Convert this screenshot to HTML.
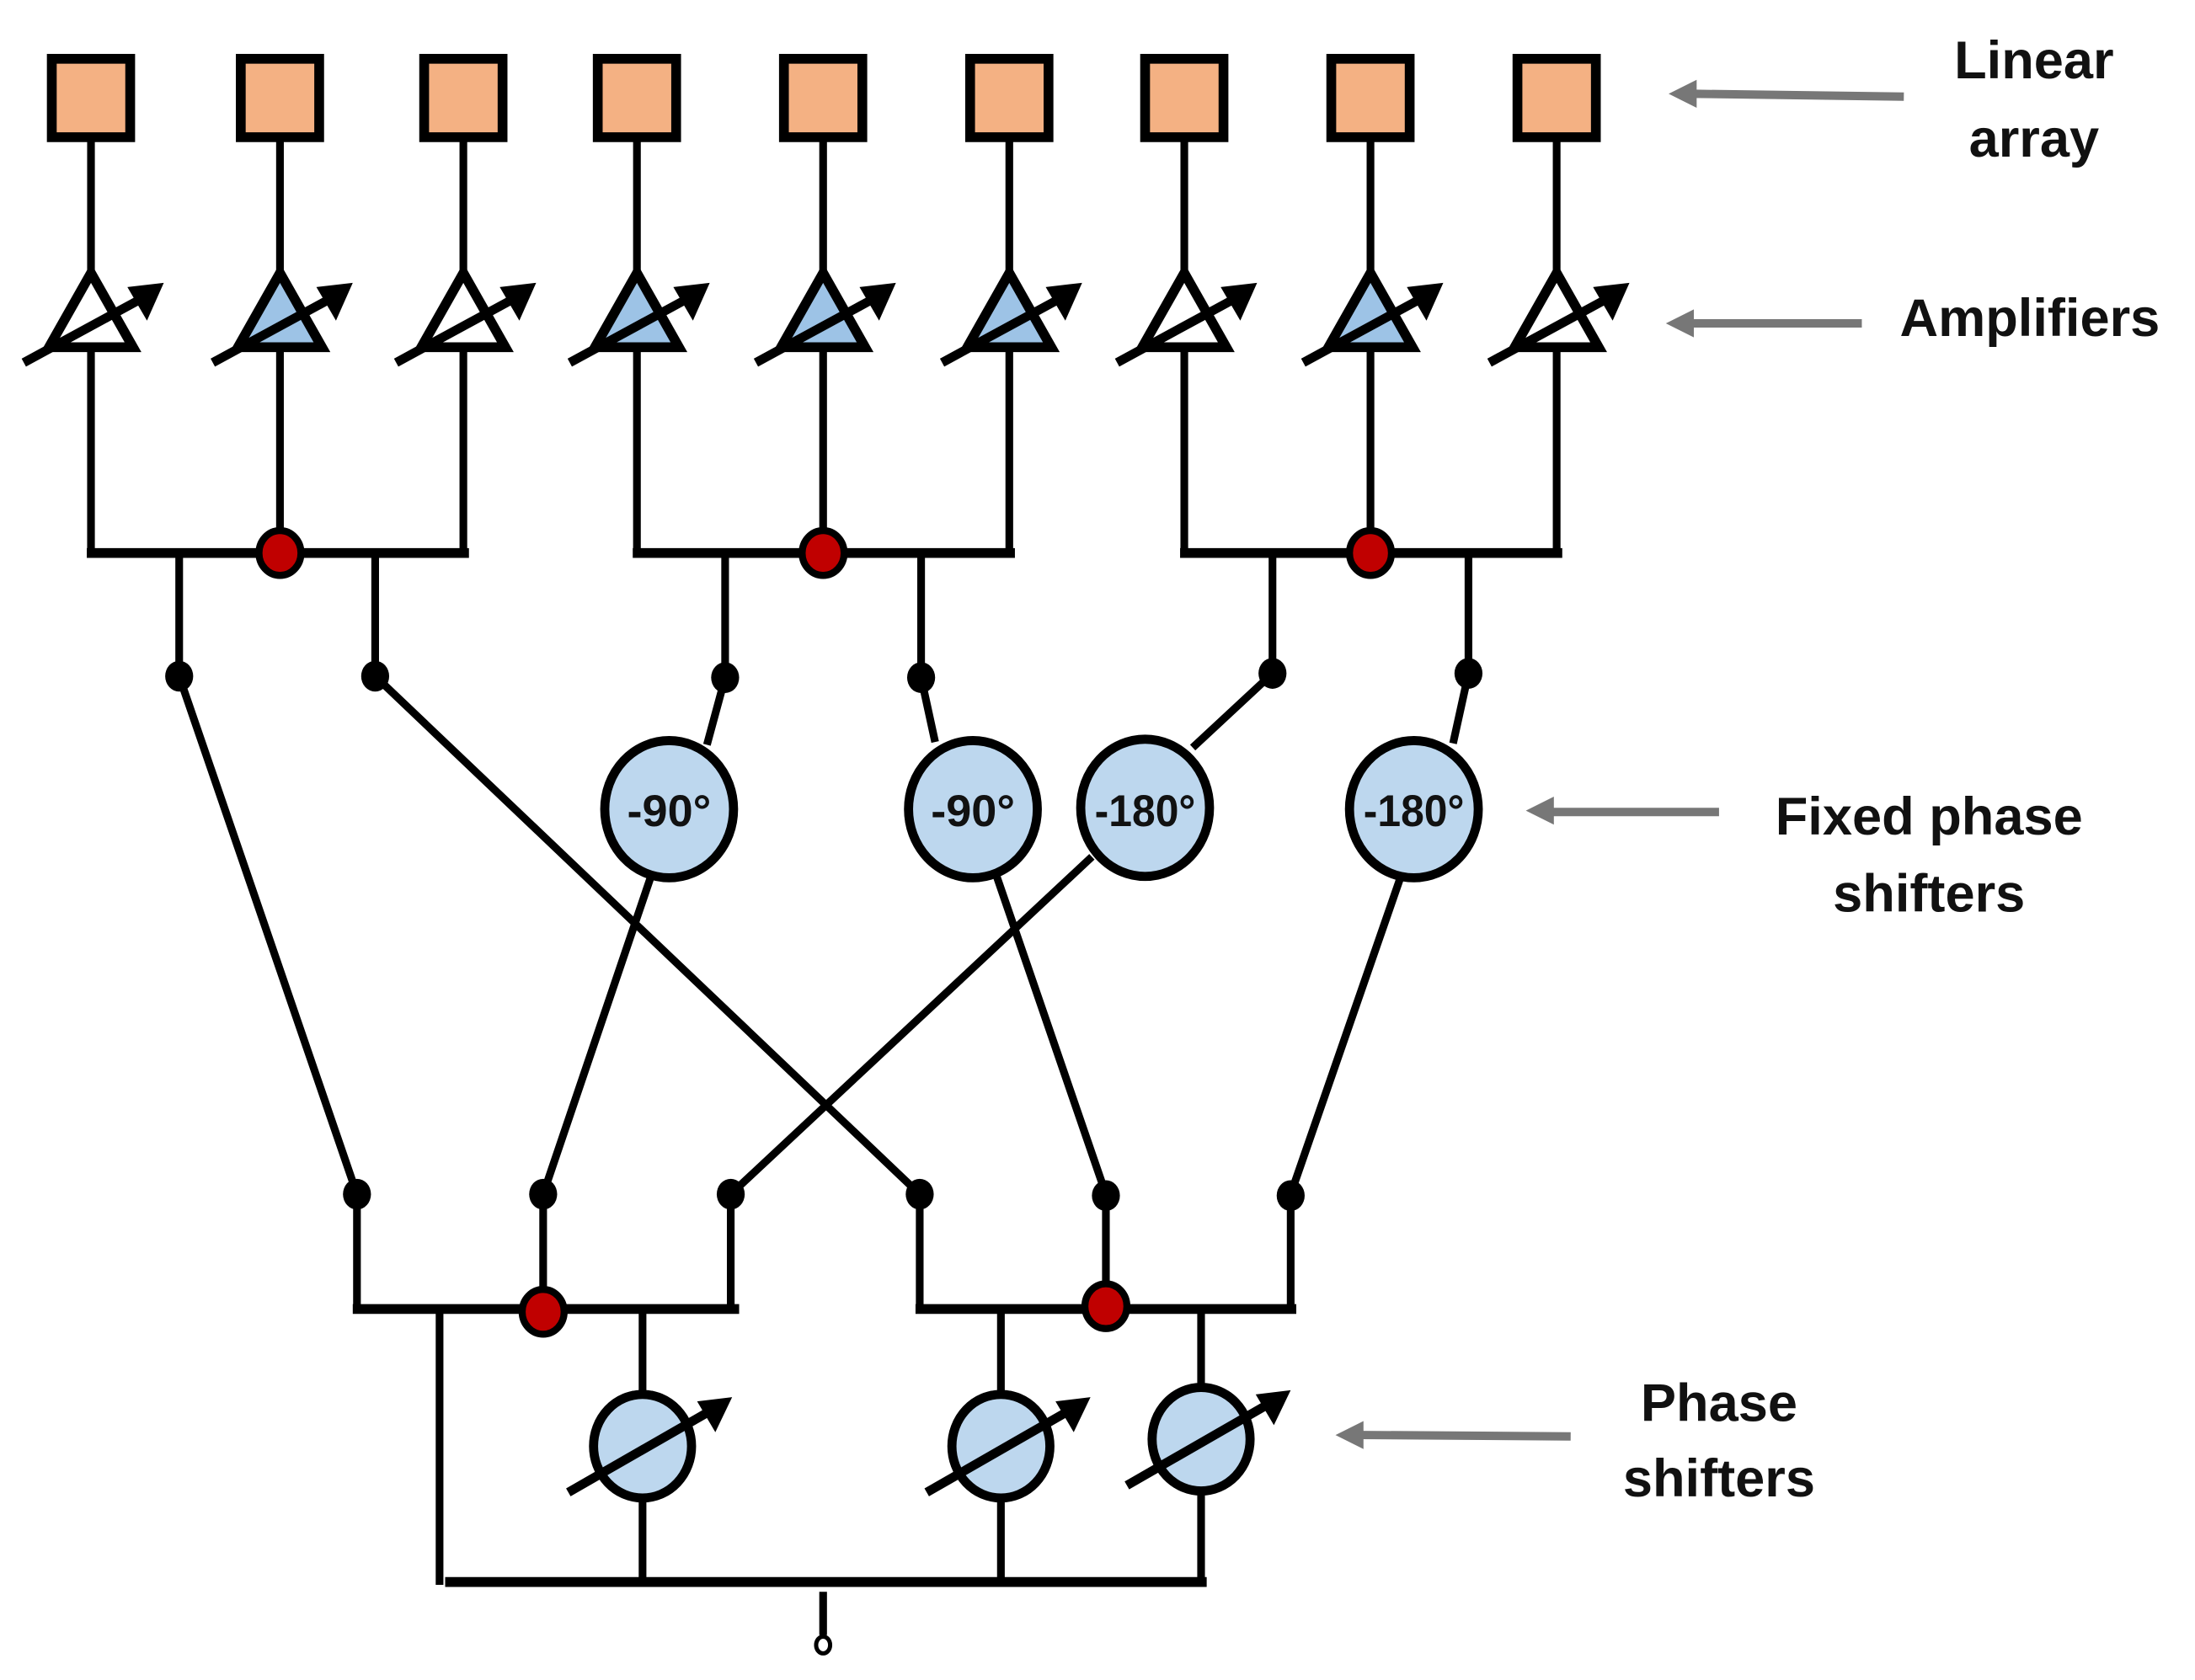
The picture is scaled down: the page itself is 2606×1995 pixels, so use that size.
<!DOCTYPE html>
<html><head><meta charset="utf-8"><style>
html,body{margin:0;padding:0;background:#fff;}
svg{display:block;}
text{font-family:"Liberation Sans",sans-serif;font-weight:bold;fill:#111;}
</style></head><body>
<svg width="2606" height="1995" viewBox="0 0 1568 1200" preserveAspectRatio="none" xmlns="http://www.w3.org/2000/svg">
<defs>
<g id="ampArrow">
<line x1="-48" y1="64" x2="33" y2="20" stroke="#000" stroke-width="6.5"/>
<polygon points="52,7 26,10 40,34" fill="#000"/>
</g>
</defs>
<g stroke="#000" stroke-width="5.5" fill="none">
<path d="M65 100V195 M200 100V195 M331 100V195 M455 100V195 M588 100V195 M721 100V195 M846 100V195 M979 100V195 M1112 100V195"/>
<path d="M65 248V395 M200 248V395 M331 248V395 M455 248V395 M588 248V395 M721 248V395 M846 248V395 M979 248V395 M1112 248V395"/>
<path d="M128 395V483 M268 395V483 M518 395V484 M658 395V484 M909 395V481 M1049 395V481"/>
<path d="M128 483L255 853 M268 483L657 853 M518 484L505 532 M465 626L388 853 M658 484L668 530 M712 626L790 853 M909 481L852 534 M780 612L522 853 M1049 481L1038 531 M1000 628L922 853"/>
<path d="M255 853V935 M388 853V935 M522 853V935 M657 853V935 M790 853V935 M922 853V935"/>
<path d="M314 935V1132 M459 935V996 M459 1070V1130 M715 935V996 M715 1070V1130 M858 935V991 M858 1065V1130"/>
<path d="M588 1137V1168"/>
</g>
<g stroke="#000" stroke-width="7" fill="none">
<path d="M62 395H335 M452 395H725 M843 395H1116"/>
<path d="M252 935H528 M654 935H926"/>
<path d="M318 1130H862"/>
</g>
<g fill="#F4B183" stroke="#000" stroke-width="7">
<rect x="37" y="42" width="56" height="56"/><rect x="172" y="42" width="56" height="56"/><rect x="303" y="42" width="56" height="56"/>
<rect x="427" y="42" width="56" height="56"/><rect x="560" y="42" width="56" height="56"/><rect x="693" y="42" width="56" height="56"/>
<rect x="818" y="42" width="56" height="56"/><rect x="951" y="42" width="56" height="56"/><rect x="1084" y="42" width="56" height="56"/>
</g>
<g stroke="#000" stroke-width="7" stroke-linejoin="miter">
<g transform="translate(65,0)"><polygon points="0,195 -30,248 30,248" fill="#fff"/></g>
<g transform="translate(200,0)"><polygon points="0,195 -30,248 30,248" fill="#9DC3E6"/></g>
<g transform="translate(331,0)"><polygon points="0,195 -30,248 30,248" fill="#fff"/></g>
<g transform="translate(455,0)"><polygon points="0,195 -30,248 30,248" fill="#9DC3E6"/></g>
<g transform="translate(588,0)"><polygon points="0,195 -30,248 30,248" fill="#9DC3E6"/></g>
<g transform="translate(721,0)"><polygon points="0,195 -30,248 30,248" fill="#9DC3E6"/></g>
<g transform="translate(846,0)"><polygon points="0,195 -30,248 30,248" fill="#fff"/></g>
<g transform="translate(979,0)"><polygon points="0,195 -30,248 30,248" fill="#9DC3E6"/></g>
<g transform="translate(1112,0)"><polygon points="0,195 -30,248 30,248" fill="#fff"/></g>
</g>
<g>
<use href="#ampArrow" transform="translate(65,195)"/><use href="#ampArrow" transform="translate(200,195)"/><use href="#ampArrow" transform="translate(331,195)"/>
<use href="#ampArrow" transform="translate(455,195)"/><use href="#ampArrow" transform="translate(588,195)"/><use href="#ampArrow" transform="translate(721,195)"/>
<use href="#ampArrow" transform="translate(846,195)"/><use href="#ampArrow" transform="translate(979,195)"/><use href="#ampArrow" transform="translate(1112,195)"/>
</g>
<g fill="#000">
<ellipse cx="128" cy="483" rx="10" ry="11"/><ellipse cx="268" cy="483" rx="10" ry="11"/><ellipse cx="518" cy="484" rx="10" ry="11"/>
<ellipse cx="658" cy="484" rx="10" ry="11"/><ellipse cx="909" cy="481" rx="10" ry="11"/><ellipse cx="1049" cy="481" rx="10" ry="11"/>
<ellipse cx="255" cy="853" rx="10" ry="11"/><ellipse cx="388" cy="853" rx="10" ry="11"/><ellipse cx="522" cy="853" rx="10" ry="11"/>
<ellipse cx="657" cy="853" rx="10" ry="11"/><ellipse cx="790" cy="854" rx="10" ry="11"/><ellipse cx="922" cy="854" rx="10" ry="11"/>
</g>
<g fill="#C00000" stroke="#000" stroke-width="5">
<ellipse cx="200" cy="395" rx="15" ry="16"/><ellipse cx="588" cy="395" rx="15" ry="16"/><ellipse cx="979" cy="395" rx="15" ry="16"/>
<ellipse cx="388" cy="937" rx="15" ry="16"/><ellipse cx="790" cy="933" rx="15" ry="16"/>
</g>
<g fill="#BDD7EE" stroke="#000" stroke-width="6.5">
<ellipse cx="478" cy="578" rx="46" ry="49"/><ellipse cx="695" cy="578" rx="46" ry="49"/>
<ellipse cx="818" cy="577" rx="46" ry="49"/><ellipse cx="1010" cy="578" rx="46" ry="49"/>
</g>
<g font-size="32" text-anchor="middle">
<text x="478" y="590" textLength="60" lengthAdjust="spacingAndGlyphs">-90°</text>
<text x="695" y="590" textLength="60" lengthAdjust="spacingAndGlyphs">-90°</text>
<text x="818" y="590" textLength="72" lengthAdjust="spacingAndGlyphs">-180°</text>
<text x="1010" y="590" textLength="72" lengthAdjust="spacingAndGlyphs">-180°</text>
</g>
<g fill="#BDD7EE" stroke="#000" stroke-width="6.5">
<ellipse cx="459" cy="1033" rx="35" ry="37"/><ellipse cx="715" cy="1033" rx="35" ry="37"/><ellipse cx="858" cy="1028" rx="35" ry="37"/>
</g>
<g>
<g transform="translate(459,1033)"><line x1="-53" y1="33" x2="48" y2="-25" stroke="#000" stroke-width="6.5"/><polygon points="64,-35 39,-32 52,-10" fill="#000"/></g>
<g transform="translate(715,1033)"><line x1="-53" y1="33" x2="48" y2="-25" stroke="#000" stroke-width="6.5"/><polygon points="64,-35 39,-32 52,-10" fill="#000"/></g>
<g transform="translate(858,1028)"><line x1="-53" y1="33" x2="48" y2="-25" stroke="#000" stroke-width="6.5"/><polygon points="64,-35 39,-32 52,-10" fill="#000"/></g>
</g>
<ellipse cx="588" cy="1175" rx="5" ry="6" fill="#fff" stroke="#000" stroke-width="3"/>
<g stroke="#777" stroke-width="6" fill="#777">
<line x1="1360" y1="69" x2="1210" y2="67"/><polygon points="1192,67 1212,57 1212,77" stroke="none"/>
<line x1="1330" y1="231" x2="1208" y2="231"/><polygon points="1190,231 1210,221 1210,241" stroke="none"/>
<line x1="1228" y1="580" x2="1108" y2="580"/><polygon points="1090,579 1110,569 1110,589" stroke="none"/>
<line x1="1122" y1="1026" x2="972" y2="1025"/><polygon points="954,1025 974,1015 974,1035" stroke="none"/>
</g>
<g font-size="38" text-anchor="middle">
<text x="1453" y="56">Linear</text><text x="1453" y="112">array</text>
<text x="1450" y="240">Amplifiers</text>
<text x="1378" y="596">Fixed phase</text><text x="1378" y="651">shifters</text>
<text x="1228" y="1015">Phase</text><text x="1228" y="1069">shifters</text>
</g>
</svg>
</body></html>
